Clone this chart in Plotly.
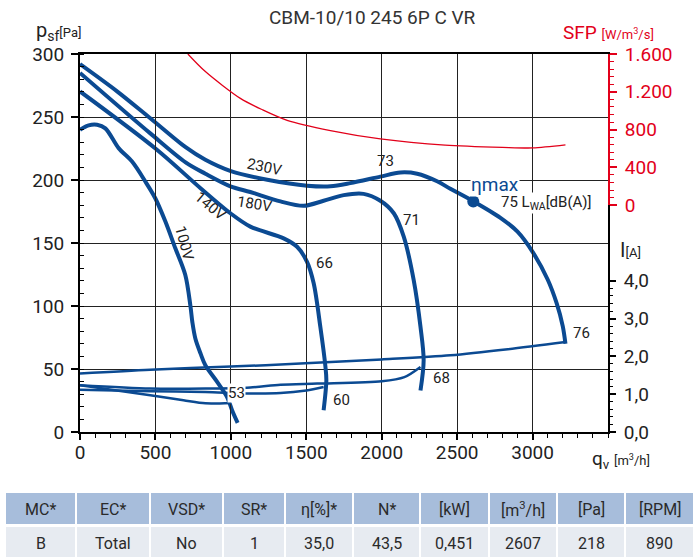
import plotly.graph_objects as go

# ---------------- data ----------------
title_text = "CBM-10/10 245 6P C VR"

q_230 = [0, 250, 466, 700, 831, 1000, 1250, 1505, 1660, 1792, 1991, 2124, 2235, 2367, 2455, 2603, 2787, 2900, 3000, 3100, 3160, 3200, 3218]
p_230 = [292, 270, 249, 226, 216, 207, 200, 195.5, 195, 197.5, 202.7, 206, 205, 199, 193, 183.4, 170, 159, 143, 121, 102, 84, 70]

q_180 = [0, 466, 700, 831, 997, 1129, 1329, 1483, 1615, 1748, 1880, 1991, 2080, 2146, 2212, 2257, 2278, 2257]
p_180 = [285, 237, 214, 205, 195, 190.5, 183, 179.5, 183.5, 188, 189, 183.5, 173.6, 155, 120.6, 83.5, 57, 33]

q_140 = [0, 500, 799, 997, 1129, 1350, 1439, 1505, 1549, 1593, 1627, 1633, 1615]
p_140 = [270.3, 225, 193.5, 173.6, 163, 153.7, 147, 135, 118, 83.5, 51.7, 41, 17.3]

q_100 = [0, 57, 113, 168, 256, 345, 433, 499, 566, 632, 698, 732, 745, 765, 800, 831, 908, 975, 1008, 1045]
p_100 = [239.8, 243.3, 243.8, 241, 225.3, 214.6, 198.8, 185.5, 167, 145.8, 124.6, 100, 87, 74, 62, 53, 40, 27.8, 17.3, 7.2]

# current curves [A]
qi_230 = [0, 466, 1000, 1461, 2000, 2455, 2836, 3218]
i_230 = [1.55, 1.65, 1.73, 1.81, 1.92, 2.03, 2.19, 2.38]
qi_180 = [0, 466, 831, 1129, 1329, 1572, 2000, 2150, 2257]
i_180 = [1.24, 1.15, 1.15, 1.18, 1.25, 1.28, 1.34, 1.45, 1.72]
qi_140 = [0, 466, 831, 1106, 1329, 1500, 1615]
i_140 = [1.12, 1.08, 1.06, 1.02, 1.03, 1.10, 1.19]
qi_100 = [0, 466, 686, 831, 1000]
i_100 = [1.24, 0.97, 0.84, 0.76, 0.77]

# SFP curve [W/m3/s]
q_sfp = [715, 831, 1063, 1209, 1373, 1660, 1991, 2420, 2800, 3001, 3218]
sfp = [1600, 1414, 1130, 1010, 898, 790, 702, 636, 612, 606, 638]

eta_q = [2607]
eta_p = [183]

x_ticks = [0, 500, 1000, 1500, 2000, 2500, 3000]
p_ticks = [0, 50, 100, 150, 200, 250, 300]
sfp_ticks = [0, 400, 800, 1200, 1600]
sfp_tick_text = ["0", "400", "800", "1.200", "1.600"]
i_ticks = [0, 1, 2, 3, 4]
i_tick_text = ["0,0", "1,0", "2,0", "3,0", "4,0"]

voltage_labels = ["230V", "180V", "140V", "100V"]
sound_labels = ["73", "71", "66", "60", "68", "53", "76"]

table_header = ["MC*", "EC*", "VSD*", "SR*", "η[%]*", "N*", "[kW]", "[m<sup>3</sup>/h]", "[Pa]", "[RPM]"]
table_values = ["B", "Total", "No", "1", "35,0", "43,5", "0,451", "2607", "218", "890"]

# ---------------- style / layout helpers ----------------
W, H = 696, 558
ML, MR, MT, MB = 80, 88, 54, 126
PW = W - ML - MR
PH = H - MT - MB
BLUE = "#0b4a92"
RED = "#e2001a"
TXT = "#222222"
FONT = "Roboto"


def px2x(px):
    return (px - ML) / PW


def py2y(py):
    return (MT + PH - py) / PH


fig = go.Figure()

for q, p in [(q_230, p_230), (q_180, p_180), (q_140, p_140), (q_100, p_100)]:
    fig.add_trace(go.Scatter(x=q, y=p, mode="lines", xaxis="x", yaxis="y",
                             line=dict(color=BLUE, width=4, shape="spline", smoothing=0.9),
                             hoverinfo="skip"))

for q, c in [(qi_230, i_230), (qi_180, i_180), (qi_140, i_140), (qi_100, i_100)]:
    fig.add_trace(go.Scatter(x=q, y=c, mode="lines", xaxis="x", yaxis="y3",
                             line=dict(color=BLUE, width=2.5, shape="spline", smoothing=0.8),
                             hoverinfo="skip"))

fig.add_trace(go.Scatter(x=q_sfp, y=sfp, mode="lines", xaxis="x", yaxis="y2",
                         line=dict(color=RED, width=1.3, shape="spline", smoothing=0.8),
                         hoverinfo="skip"))

fig.add_trace(go.Scatter(x=eta_q, y=eta_p, mode="markers", xaxis="x", yaxis="y",
                         marker=dict(color=BLUE, size=12), hoverinfo="skip"))

ann = []
# voltage labels (data coords)
v_pos = [(1224, 210.4, 12), (1156, 181, 9), (865, 179.4, 40), (692, 150, 75)]
for t, (x, y, a) in zip(voltage_labels, v_pos):
    ann.append(dict(x=x, y=y, xref="x", yref="y", text=t, showarrow=False, textangle=a,
                    xanchor="center", yanchor="middle",
                    font=dict(family=FONT, size=15, color=TXT)))
s_pos = [(2024, 215.2), (2197, 168), (1620, 134), (1733, 25.2), (2396, 42.7), (1037, 30.8), (3324, 78.5)]
for t, (x, y) in zip(sound_labels, s_pos):
    d = dict(x=x, y=y, xref="x", yref="y", text=t, showarrow=False, borderpad=0,
             xanchor="center", yanchor="middle",
             font=dict(family=FONT, size=15, color=TXT))
    if t == "53":
        d["bgcolor"] = "white"
    ann.append(d)
ann.append(dict(x=2754, y=196.5, xref="x", yref="y", text="ηmax", showarrow=False,
                xanchor="center", yanchor="middle",
                bgcolor="white", borderpad=0, font=dict(family=FONT, size=19, color=BLUE)))
ann.append(dict(x=2786, y=181.5, xref="x", yref="y", xanchor="left", yanchor="middle",
                text="75 L<sub>WA</sub>[dB(A)]", showarrow=False,
                bgcolor="white", borderpad=0, font=dict(family=FONT, size=15, color=TXT)))

# title and axis titles (paper coords)
ann.append(dict(x=px2x(372), y=py2y(18), xref="paper", yref="paper", text=title_text,
                xanchor="center", yanchor="middle",
                showarrow=False, font=dict(family=FONT, size=19, color="#333333")))
ann.append(dict(x=px2x(34), y=py2y(31), xref="paper", yref="paper", xanchor="left", yanchor="middle",
                text="p<sub>sf</sub><span style='font-size:13px'>[Pa]</span>",
                showarrow=False, font=dict(family=FONT, size=20, color=TXT)))
ann.append(dict(x=px2x(561), y=py2y(32), xref="paper", yref="paper", xanchor="left", yanchor="middle",
                text="SFP <span style='font-size:13px'>[W/m<sup>3</sup>/s]</span>",
                showarrow=False, font=dict(family=FONT, size=19, color=RED)))
ann.append(dict(x=px2x(618), y=py2y(250), xref="paper", yref="paper", xanchor="left", yanchor="middle",
                text="I<span style='font-size:13px'>[A]</span>",
                showarrow=False, font=dict(family=FONT, size=20, color=TXT)))
ann.append(dict(x=px2x(590), y=py2y(460), xref="paper", yref="paper", xanchor="left", yanchor="middle",
                text="q<sub>v</sub> <span style='font-size:13px'>[m<sup>3</sup>/h]</span>",
                showarrow=False, font=dict(family=FONT, size=19, color=TXT)))

# table
borders = [5, 76, 150, 223, 285, 353, 420, 489, 557, 625, 694]
shapes = []
rows = [(493, 524, "#a7bddb", table_header), (527, 557, "#e7ebf1", table_values)]
for top, bot, col, texts in rows:
    for i, t in enumerate(texts):
        x0 = borders[i] + 1
        x1 = borders[i + 1] - 1
        shapes.append(dict(type="rect", xref="paper", yref="paper",
                           x0=px2x(x0), x1=px2x(x1), y0=py2y(bot), y1=py2y(top),
                           fillcolor=col, line=dict(width=0), layer="below"))
        ann.append(dict(x=px2x((x0 + x1) / 2), y=py2y((top + bot) / 2 + 1), xref="paper", yref="paper",
                        xanchor="center", yanchor="middle",
                        text=t, showarrow=False, font=dict(family=FONT, size=16, color="#2a2a2a")))

fig.update_layout(
    width=W, height=H,
    margin=dict(l=ML, r=MR, t=MT, b=MB),
    paper_bgcolor="white", plot_bgcolor="rgba(0,0,0,0)",
    showlegend=False,
    font=dict(family=FONT, color=TXT),
    annotations=ann,
    shapes=shapes,
    xaxis=dict(range=[0, 3500], tickvals=x_ticks, ticks="outside", ticklen=6, tickwidth=1.5,
               tickcolor="black", showgrid=True, gridcolor="#222222", gridwidth=1.3,
               showline=True, linecolor="black", linewidth=2, mirror=True, zeroline=False,
               tickfont=dict(family=FONT, size=19, color=TXT), ticklabelstandoff=-4,
               minor=dict(dtick=100, ticks="outside", ticklen=4, tickwidth=1.2,
                          tickcolor="black", showgrid=False)),
    yaxis=dict(range=[0, 300], tickvals=p_ticks, ticks="outside", ticklen=7, tickwidth=1.5,
               tickcolor="black", showgrid=True, gridcolor="#222222", gridwidth=1.3,
               showline=True, linecolor="black", linewidth=2, mirror=True, zeroline=False,
               tickfont=dict(family=FONT, size=19, color=TXT), ticklabelstandoff=3,
               minor=dict(dtick=10, ticks="inside", ticklen=4, tickwidth=1.2,
                          tickcolor="black", showgrid=False)),
    yaxis2=dict(domain=[0.6, 1], range=[0, 1600], anchor="x", side="right",
                tickvals=sfp_ticks, ticktext=sfp_tick_text, ticks="outside", ticklen=7,
                tickwidth=1.5, tickcolor=RED, showgrid=False, zeroline=False,
                showline=True, linecolor=RED, linewidth=2,
                tickfont=dict(family=FONT, size=19, color=RED), ticklabelstandoff=4,
                minor=dict(tickvals=[v for v in range(80, 1600, 80) if v % 400], ticks="outside",
                           ticklen=4, tickwidth=1.2, tickcolor=RED)),
    yaxis3=dict(domain=[0, 0.5], range=[0, 5], anchor="x", side="right",
                tickvals=i_ticks, ticktext=i_tick_text, ticks="outside", ticklen=7,
                tickwidth=1.5, tickcolor="black", showgrid=False, zeroline=False,
                showline=False,
                tickfont=dict(family=FONT, size=19, color=TXT), ticklabelstandoff=4,
                minor=dict(tickvals=[k / 5 for k in range(1, 20) if k % 5], ticks="outside",
                           ticklen=4, tickwidth=1.2, tickcolor="black")),
)

fig.write_html("out.html", config={"displayModeBar": False},
               post_script="document.body.style.margin='0px';")
